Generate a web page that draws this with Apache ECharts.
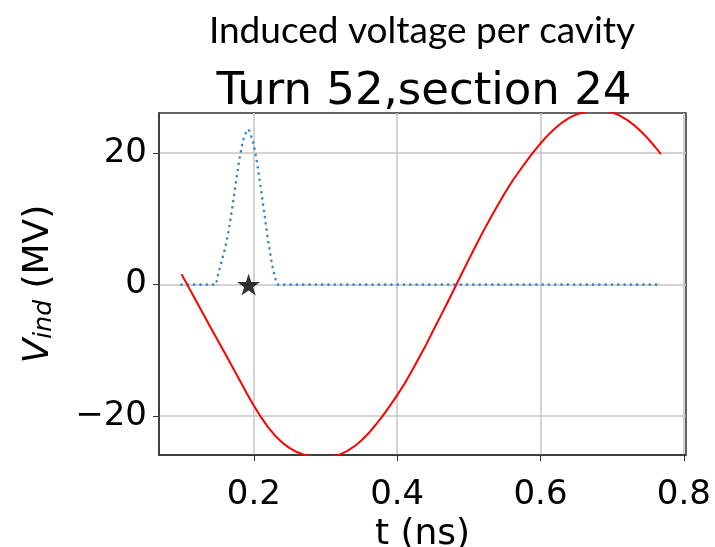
<!DOCTYPE html>
<html lang="en">
<head>
  <meta charset="UTF-8">
  <title>Induced voltage per cavity</title>
  <script src="https://cdn.jsdelivr.net/npm/echarts@6/dist/echarts.min.js"></script>
  <style>
    * { margin: 0; padding: 0; }
    body { background: #fff; }
    #chart { width: 715px; height: 547px; }
  </style>
</head>
<body>
  <div id="chart"></div>
  <script>
    // induced voltage (red)
    const tRed = [0.099, 0.11, 0.12, 0.14, 0.16, 0.18, 0.19, 0.20, 0.21, 0.22, 0.23, 0.24, 0.25, 0.26, 0.27, 0.28, 0.29,
      0.30, 0.31, 0.32, 0.33, 0.34, 0.35, 0.36, 0.37, 0.38, 0.39, 0.40, 0.41, 0.42, 0.43, 0.44, 0.45, 0.46, 0.47, 0.48,
      0.49, 0.50, 0.51, 0.52, 0.53, 0.54, 0.55, 0.56, 0.57, 0.58, 0.59, 0.60, 0.61, 0.62, 0.63, 0.64, 0.65, 0.66, 0.67,
      0.68, 0.69, 0.70, 0.71, 0.72, 0.73, 0.74, 0.75, 0.76, 0.768]
    const vInd = [1.6, -0.6, -2.6, -6.6, -10.5, -14.5, -16.5, -18.4, -20.15, -21.7, -23.0, -24.05, -24.85, -25.45, -25.85, -26.1, -26.25,
      -26.25, -26.1, -25.8, -25.3, -24.6, -23.7, -22.6, -21.3, -19.9, -18.4, -16.8, -15.1, -13.2, -11.2, -9.2, -7.0, -4.9, -2.75, -0.55,
      1.65, 3.85, 6.0, 8.1, 10.1, 12.05, 13.9, 15.65, 17.2, 18.7, 20.15, 21.5, 22.7, 23.75, 24.65, 25.35, 25.88, 26.26, 26.5,
      26.59, 26.49, 26.21, 25.74, 25.11, 24.3, 23.33, 22.21, 20.93, 19.83]

    // bunch profile (blue dotted), scaled
    const tBunch = [0.099, 0.147, 0.150, 0.155, 0.160, 0.165, 0.170, 0.175, 0.180, 0.185, 0.190, 0.193, 0.195,
      0.200, 0.205, 0.210, 0.215, 0.220, 0.225, 0.230, 0.233, 0.768]
    const profile = [0, 0, 1.5, 3.6, 5.6, 8.3, 11.8, 15.6, 19.2, 22.0, 23.4, 23.6, 23.3,
      21.3, 18.2, 14.4, 10.5, 6.6, 3.2, 0.9, 0, 0]

    const starPoint = [0.1926, 0]

    const xTicks = [0.2, 0.4, 0.6, 0.8]
    const yTicks = [-20, 0, 20]

    const starPath = 'path://M100 0 L122.45 69.1 L195.1 69.1 L136.3 111.8 L158.8 180.9 L100 138.2 L41.2 180.9 L63.7 111.8 L4.9 69.1 L77.55 69.1 Z'

    const chart = echarts.init(document.getElementById('chart'))
    const font = 'DejaVu Sans'

    const option = {
      animation: false,
      graphic: [
        {
          type: 'text', x: 422, y: 31,
          style: { text: 'Induced voltage per cavity', fontSize: 37, fontFamily: 'Lato', fill: '#000', align: 'center', verticalAlign: 'middle' }
        },
        {
          type: 'text', x: 424, y: 92,
          style: { text: 'Turn 52,section 24', fontSize: 45, fontFamily: font, fill: '#000', align: 'center', verticalAlign: 'middle' }
        }
      ],
      grid: {
        left: 159, top: 113, width: 527, height: 342,
        outerBoundsMode: 'none', containLabel: false,
        show: true, borderColor: '#333', borderWidth: 1.5, backgroundColor: 'transparent'
      },
      xAxis: {
        type: 'value', min: 0.0676, max: 0.803,
        name: 't (ns)', nameLocation: 'middle', nameGap: 57,
        nameTextStyle: { fontSize: 36, fontFamily: font, color: '#000' },
        axisLine: { show: true, onZero: false, lineStyle: { color: '#333', width: 1.5 } },
        axisTick: { show: true, customValues: xTicks, length: 6, lineStyle: { color: '#333' } },
        axisLabel: { customValues: xTicks, fontSize: 34, fontFamily: font, color: '#000', margin: 23 },
        splitLine: { show: true, lineStyle: { color: '#c4c4c4', width: 1.5 } }
      },
      yAxis: {
        type: 'value', min: -25.9, max: 26.1,
        name: '{v|V}{sub|ind} (MV)', nameLocation: 'middle', nameGap: 102, nameRotate: 90,
        nameTextStyle: {
          fontSize: 36, fontFamily: font, color: '#000',
          rich: {
            v: { fontSize: 36, fontFamily: font, fontStyle: 'italic', color: '#000' },
            sub: { fontSize: 25, fontFamily: font, fontStyle: 'italic', color: '#000', verticalAlign: 'bottom' }
          }
        },
        axisLine: { show: true, onZero: false, lineStyle: { color: '#333', width: 1.5 } },
        axisTick: { show: true, customValues: yTicks, length: 6, lineStyle: { color: '#333' } },
        axisLabel: {
          customValues: yTicks, fontSize: 34, fontFamily: font, color: '#000', margin: 12,
          formatter: v => String(v).replace('-', '\u2212')
        },
        splitLine: { show: true, lineStyle: { color: '#c4c4c4', width: 1.5 } }
      },
      series: [
        {
          type: 'line', data: tBunch.map((t, i) => [t, profile[i]]),
          showSymbol: false, clip: true,
          lineStyle: { color: '#3b87c4', width: 2.6, type: [0.1, 6.2], cap: 'round' }
        },
        {
          type: 'line', data: tRed.map((t, i) => [t, vInd[i]]),
          showSymbol: false, clip: true,
          lineStyle: { color: '#ff0000', width: 2 }
        },
        {
          type: 'scatter', data: [starPoint],
          symbol: starPath, symbolSize: 23, symbolKeepAspect: true,
          itemStyle: { color: '#000' }, z: 5
        }
      ]
    }

    chart.setOption(option)
  </script>
</body>
</html>
